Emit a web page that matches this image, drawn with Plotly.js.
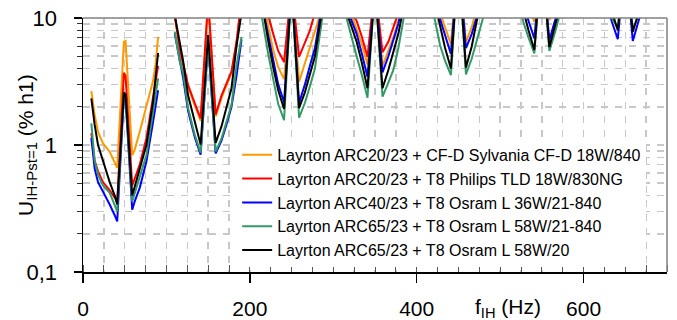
<!DOCTYPE html>
<html>
<head>
<meta charset="utf-8">
<script src="https://cdn.plot.ly/plotly-3.0.1.min.js"></script>
<style>html,body{margin:0;padding:0;background:#fff;}#chart{width:677px;height:320px;}</style>
</head>
<body>
<div id="chart"></div>
<script>
// Interharmonic frequency (Hz); null separates the measured groups
const freq = [
  10,14,18,24,32,38,41,49,51,59,62,68,76,84,87,90, null,
  110,116,120,126,134,141,150,159,166,172,178,184,190, null,
  210,216,222,228,234,241,250,259,266,272,278,284,290, null,
  310,316,322,328,334,341,350,359,366,372,378,384,390, null,
  410,416,422,428,434,441,450,459,466,472,478,484,490, null,
  510,516,522,528,534,541,550,559,566,572,578,584,590, null,
  610,616,622,628,634,641,650,659,666,672,678,684,690
];

const seriesNames = [
  "Layrton ARC20/23 + CF-D Sylvania CF-D 18W/840",
  "Layrton ARC20/23 + T8 Philips TLD 18W/830NG",
  "Layrton ARC40/23 + T8 Osram L 36W/21-840",
  "Layrton ARC65/23 + T8 Osram L 58W/21-840",
  "Layrton ARC65/23 + T8 Osram L 58W/20"
];

const orangeVals = [
  2.66,1.72,1.27,1.03,0.885,0.74,0.66,6.5,6.6,0.83,0.92,1.27,2.0,3.2,4.3,7.1, null,
  10.3,5.5,4.2,2.85,2.05,1.55,13,1.68,2.35,3.0,3.7,6.3,13, null,
  25,14,8.5,5.6,4.1,3.3,18,3.15,4.4,5.8,7.6,10.5,20, null,
  25,14,10.5,8.2,6.3,4.3,18,4.2,5.5,7.0,9.5,15,25, null,
  30,20,14,11,8.3,6.2,30,6.5,8.5,11.5,16,24,35, null,
  40,30,22,16,12.5,9.3,30,9.6,13,17,24,32,40, null,
  45,35,28,20,15,12.5,30,12.5,15,20,28,35,45
];
const redVals = [
  1.24,0.75,0.62,0.51,0.44,0.38,0.36,3.7,3.5,0.48,0.55,0.70,1.13,2.33,3.1,4.2, null,
  10.5,5.8,4.4,2.96,2.13,1.62,14,1.74,2.45,3.1,3.8,6.5,14, null,
  30,18,10.5,7.5,5.5,4.5,18,4.95,6.3,8.0,11,20,30, null,
  30,16,11,9.5,7.2,4.95,18,5.37,6.5,8.5,11,18,30, null,
  40,30,22,17,13.5,11,30,11.5,14,18,25,35,45, null,
  45,35,28,22,17,14,30,14,17,22,28,35,45, null,
  50,40,32,25,20,17,30,17,20,25,32,40,50
];
const blueVals = [
  1.14,0.65,0.51,0.43,0.34,0.28,0.25,2.4,2.3,0.31,0.36,0.46,0.74,1.52,2.0,2.7, null,
  7.5,4.6,3.4,1.85,1.15,0.84,6.3,0.86,1.08,1.45,2.0,3.5,6.8, null,
  20,11.5,7.3,4.6,3.0,2.17,18,2.14,3.0,4.2,5.8,10,16, null,
  20,12,9.5,7.5,5.3,3.45,18,3.73,5.0,6.6,9.0,14,22, null,
  25,17,12.5,9.8,7.2,5.2,30,5.8,7.5,10,14,20,30, null,
  40,28,18,12.5,9.5,6.9,30,6.7,9.7,14,20,28,40, null,
  40,28,20,13,9.3,6.8,30,6.6,9.5,13,20,28,40
];
const greenVals = [
  1.48,0.75,0.58,0.48,0.42,0.34,0.30,2.5,2.4,0.36,0.42,0.55,0.83,1.82,2.5,3.35, null,
  7.8,4.5,3.7,1.95,1.2,0.87,6.5,0.89,1.12,1.5,2.07,4.2,7.1, null,
  15,8.5,5.2,3.3,2.1,1.57,18,1.64,2.15,2.9,4.0,7.5,14, null,
  14,9.8,7.0,5.0,3.6,2.36,18,2.4,3.1,3.9,5.8,9.8,16, null,
  20,13,9.5,6.1,4.6,3.55,30,3.6,4.8,6.5,9.2,13,20, null,
  30,20,13,9.2,7.0,5.27,30,5.5,7.8,11,15,22,30, null,
  35,25,18,13,10,8.3,30,8.1,10.5,14,20,28,38
];
const blackVals = [
  2.33,1.44,1.0,0.74,0.51,0.40,0.34,2.6,2.5,0.40,0.47,0.62,1.0,2.2,3.3,5.3, null,
  10.5,6.1,4.6,2.45,1.52,1.01,7.35,1.04,1.4,2.0,2.8,6.0,11, null,
  20,11,6.6,4.1,2.7,1.92,18,1.95,2.6,3.6,5.0,9,16, null,
  18,11,8.5,6.5,4.5,2.8,18,2.8,3.9,5.3,7.5,12,20, null,
  25,16,13,8.5,5.8,4.0,30,4.07,6.0,9.5,14,20,28, null,
  35,25,16,11,8,5.6,30,5.9,9,13,18,25,35, null,
  40,30,22,15,11,8.0,30,7.8,11,15,22,30,40
];

const xTickVals = [0, 200, 400, 600];
const xTickText = ["0", "200", "400", "600"];
const yTickVals = [0.1, 1, 10];
const yTickText = ["0,1", "1", "10"];
const yMinorVals = [0.2,0.3,0.4,0.5,0.6,0.7,0.8,0.9,2,3,4,5,6,7,8,9];

const colors = ["#FF9900", "#FF0000", "#0000FF", "#339966", "#000000"];
const allVals = [orangeVals, redVals, blueVals, greenVals, blackVals];

const traces = allVals.map((v, i) => ({
  x: freq, y: v, name: seriesNames[i], type: "scatter", mode: "lines",
  connectgaps: false,
  line: {color: colors[i], width: 2}
}));

const gridCol = "#c8c8c8";
const layout = {
  width: 677, height: 320,
  margin: {l: 83, r: 10, t: 18, b: 48},
  paper_bgcolor: "#fff", plot_bgcolor: "#fff",
  font: {family: 'Arial, "Liberation Sans", sans-serif', color: "#000"},
  showlegend: true,
  legend: {x: 0.264, y: 0.528, xanchor: "left", yanchor: "top", bgcolor: "#fff",
           borderwidth: 0, font: {size: 16}, tracegroupgap: 0},
  xaxis: {
    range: [0, 700], tickvals: xTickVals, ticktext: xTickText,
    ticks: "outside", ticklen: 9, tickwidth: 1.5, tickcolor: "#000",
    showline: true, linecolor: "#000", linewidth: 1.5, zeroline: false,
    showgrid: true, gridcolor: gridCol, gridwidth: 1.5, griddash: "7px,7px",
    tickfont: {size: 21}, ticklabelstandoff: 8,
    minor: {dtick: 25, tick0: 0, ticks: "inside", ticklen: 7, tickwidth: 1, tickcolor: "#555",
            showgrid: true, gridcolor: gridCol, gridwidth: 1.5, griddash: "7px,7px"}
  },
  yaxis: {
    type: "log", range: [-1, 1], tickvals: yTickVals, ticktext: yTickText,
    ticks: "outside", ticklen: 8, tickwidth: 1.5, tickcolor: "#000",
    showline: true, linecolor: "#000", linewidth: 1.5, zeroline: false,
    showgrid: true, gridcolor: gridCol, gridwidth: 1.5, griddash: "7px,7px",
    tickfont: {size: 22}, ticklabelstandoff: 12,
    minor: {tickvals: yMinorVals, ticks: "outside", ticklen: 5, tickwidth: 1, tickcolor: "#333",
            showgrid: true, gridcolor: gridCol, gridwidth: 1.5, griddash: "7px,7px"}
  },
  shapes: [
    {type: "line", xref: "paper", yref: "paper", x0: 0, x1: 1, y0: 1, y1: 1, line: {color: "#808080", width: 1.5}},
    {type: "line", xref: "paper", yref: "paper", x0: 1, x1: 1, y0: 0, y1: 1, line: {color: "#808080", width: 1.5}}
  ],
  annotations: [
    {text: 'U<sub><span style="font-size:15px">IH-Pst=1</span></sub> (% h1)', textangle: -90,
     xref: "paper", yref: "paper", x: -0.096, y: 0.5, xanchor: "center", yanchor: "middle",
     showarrow: false, font: {size: 21}},
    {text: "f<sub>IH</sub> (Hz)", xref: "x", yref: "paper", x: 509, y: -0.142,
     xanchor: "center", yanchor: "middle", showarrow: false, font: {size: 21}}
  ]
};

Plotly.newPlot("chart", traces, layout, {staticPlot: true, displayModeBar: false});
</script>
</body>
</html>
